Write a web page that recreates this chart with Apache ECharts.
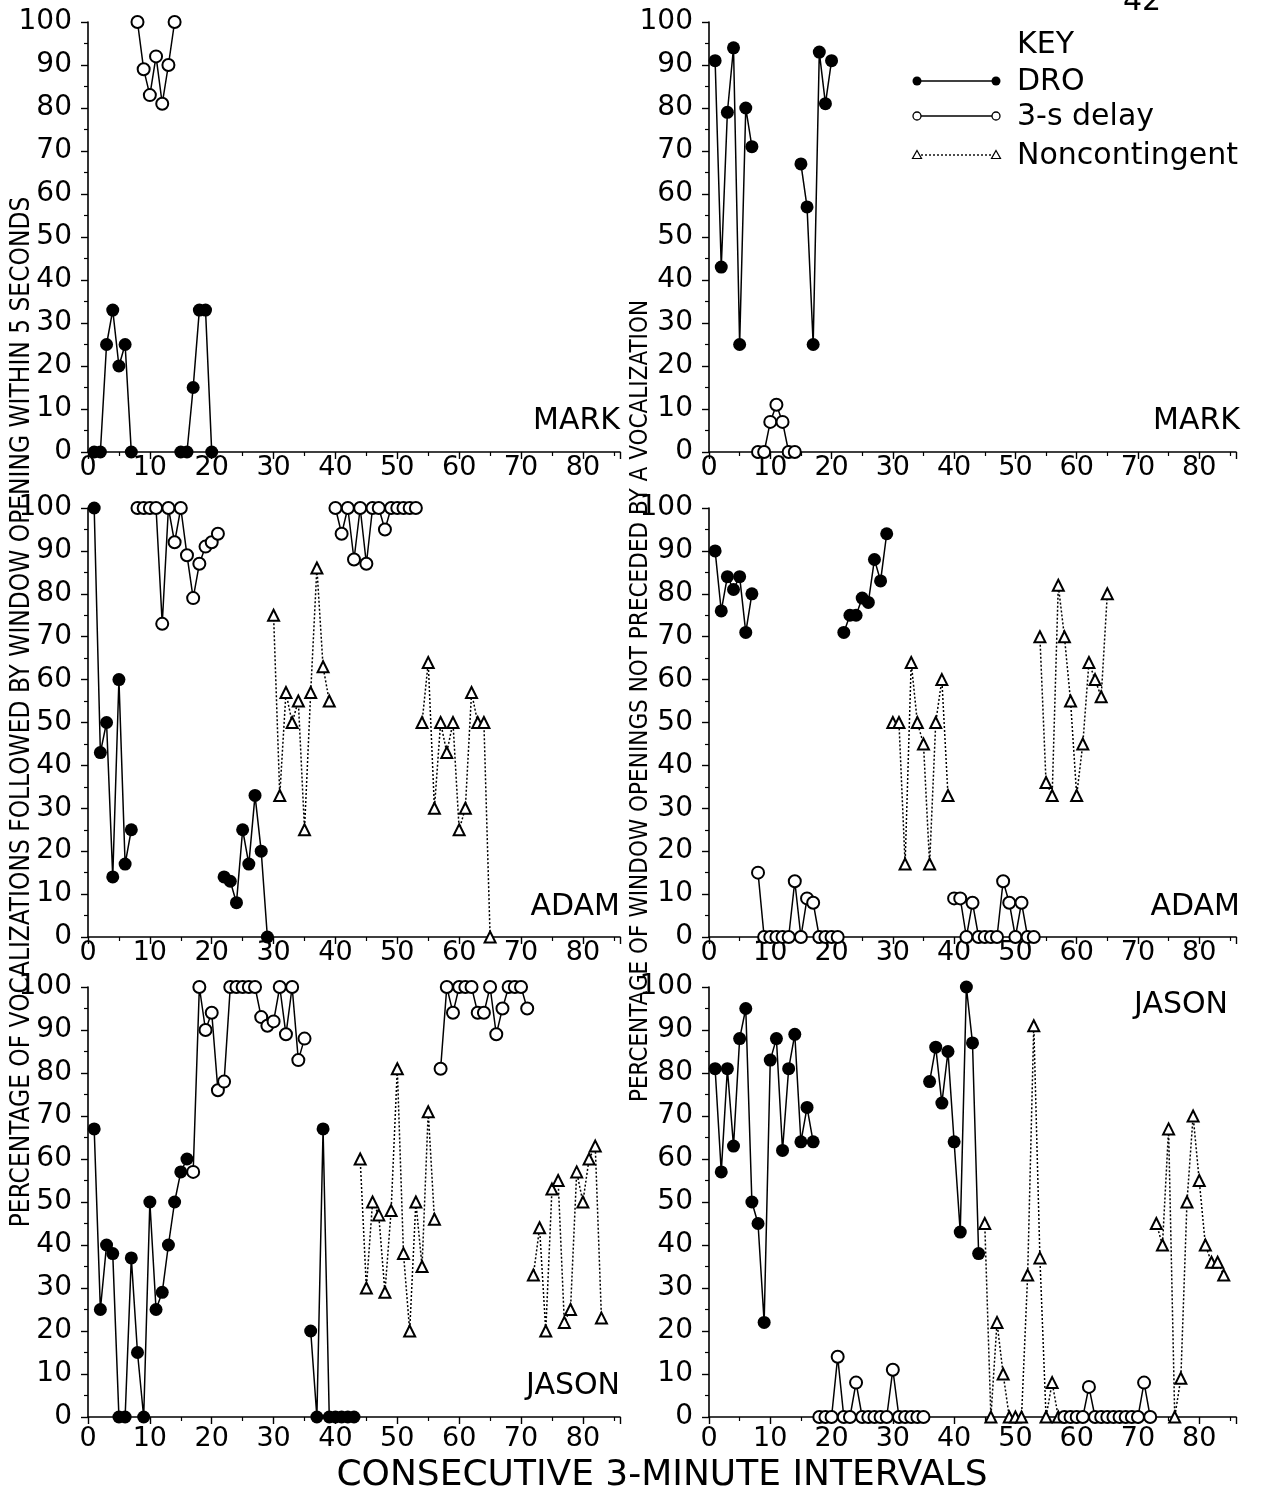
<!DOCTYPE html>
<html><head><meta charset="utf-8">
<script src="https://cdn.jsdelivr.net/npm/echarts@6/dist/echarts.min.js"></script>
<style>html,body{margin:0;padding:0;background:#fff}#c{width:1280px;height:1503px}</style>
</head><body><div id="c"></div>
<script>
// ---------- DATA: [interval, percentage] ----------
// Panel A = % of vocalizations followed by window opening within 5 s (left column)
// Panel B = % of window openings not preceded by a vocalization (right column)
const X_TICKS = [0, 10, 20, 30, 40, 50, 60, 70, 80];
const Y_TICKS = [0, 10, 20, 30, 40, 50, 60, 70, 80, 90, 100];

// MARK
const markA_dro1 = [[1,0],[2,0],[3,25],[4,33],[5,20],[6,25],[7,0]];
const markA_del1 = [[8,100],[9,89],[10,83],[11,92],[12,81],[13,90],[14,100]];
const markA_dro2 = [[15,0],[16,0],[17,15],[18,33],[19,33],[20,0]];
const markB_dro1 = [[1,91],[2,43],[3,79],[4,94],[5,25],[6,80],[7,71]];
const markB_del1 = [[8,0],[9,0],[10,7],[11,11],[12,7],[13,0],[14,0]];
const markB_dro2 = [[15,67],[16,57],[17,25],[18,93],[19,81],[20,91]];

// ADAM
const adamA_dro1 = [[1,100],[2,43],[3,50],[4,14],[5,60],[6,17],[7,25]];
const adamA_del1 = [[8,100],[9,100],[10,100],[11,100],[12,73],[13,100],[14,92],[15,100],[16,89],[17,79],[18,87],[19,91],[20,92],[21,94]];
const adamA_dro2 = [[22,14],[23,13],[24,8],[25,25],[26,17],[27,33],[28,20],[29,0]];
const adamA_nc1  = [[30,75],[31,33],[32,57],[33,50],[34,55],[35,25],[36,57],[37,86],[38,63],[39,55]];
const adamA_del2 = [[40,100],[41,94],[42,100],[43,88],[44,100],[45,87],[46,100],[47,100],[48,95],[49,100],[50,100],[51,100],[52,100],[53,100]];
const adamA_nc2  = [[54,50],[55,64],[56,30],[57,50],[58,43],[59,50],[60,25],[61,30],[62,57],[63,50],[64,50],[65,0]];
const adamB_dro1 = [[1,90],[2,76],[3,84],[4,81],[5,84],[6,71],[7,80]];
const adamB_del1 = [[8,15],[9,0],[10,0],[11,0],[12,0],[13,0],[14,13],[15,0],[16,9],[17,8],[18,0],[19,0],[20,0],[21,0]];
const adamB_dro2 = [[22,71],[23,75],[24,75],[25,79],[26,78],[27,88],[28,83],[29,94]];
const adamB_nc1  = [[30,50],[31,50],[32,17],[33,64],[34,50],[35,45],[36,17],[37,50],[38,60],[39,33]];
const adamB_del2 = [[40,9],[41,9],[42,0],[43,8],[44,0],[45,0],[46,0],[47,0],[48,13],[49,8],[50,0],[51,8],[52,0],[53,0]];
const adamB_nc2  = [[54,70],[55,36],[56,33],[57,82],[58,70],[59,55],[60,33],[61,45],[62,64],[63,60],[64,56],[65,80]];

// JASON
const jasonA_dro1 = [[1,67],[2,25],[3,40],[4,38],[5,0],[6,0],[7,37],[8,15],[9,0],[10,50],[11,25],[12,29],[13,40],[14,50],[15,57],[16,60]];
const jasonA_del1 = [[17,57],[18,100],[19,90],[20,94],[21,76],[22,78],[23,100],[24,100],[25,100],[26,100],[27,100],[28,93],[29,91],[30,92],[31,100],[32,89],[33,100],[34,83],[35,88]];
const jasonA_dro2 = [[36,20],[37,0],[38,67],[39,0],[40,0],[41,0],[42,0],[43,0]];
const jasonA_nc1  = [[44,60],[45,30],[46,50],[47,47],[48,29],[49,48],[50,81],[51,38],[52,20],[53,50],[54,35],[55,71],[56,46]];
const jasonA_del2 = [[57,81],[58,100],[59,94],[60,100],[61,100],[62,100],[63,94],[64,94],[65,100],[66,89],[67,95],[68,100],[69,100],[70,100],[71,95]];
const jasonA_nc2  = [[72,33],[73,44],[74,20],[75,53],[76,55],[77,22],[78,25],[79,57],[80,50],[81,60],[82,63],[83,23]];
const jasonB_dro1 = [[1,81],[2,57],[3,81],[4,63],[5,88],[6,95],[7,50],[8,45],[9,22],[10,83],[11,88],[12,62],[13,81],[14,89],[15,64],[16,72],[17,64]];
const jasonB_del1 = [[18,0],[19,0],[20,0],[21,14],[22,0],[23,0],[24,8],[25,0],[26,0],[27,0],[28,0],[29,0],[30,11],[31,0],[32,0],[33,0],[34,0],[35,0]];
const jasonB_dro2 = [[36,78],[37,86],[38,73],[39,85],[40,64],[41,43],[42,100],[43,87],[44,38]];
const jasonB_nc1  = [[45,45],[46,0],[47,22],[48,10],[49,0],[50,0],[51,0],[52,33],[53,91],[54,37],[55,0],[56,8],[57,0]];
const jasonB_del2 = [[58,0],[59,0],[60,0],[61,0],[62,7],[63,0],[64,0],[65,0],[66,0],[67,0],[68,0],[69,0],[70,0],[71,8],[72,0]];
const jasonB_nc2  = [[73,45],[74,40],[75,67],[76,0],[77,9],[78,50],[79,70],[80,55],[81,40],[82,36],[83,36],[84,33]];

const PANEL_NAMES = ['MARK', 'MARK', 'ADAM', 'ADAM', 'JASON', 'JASON'];
const LEGEND_LABELS = ['DRO', '3-s delay', 'Noncontingent'];
const Y_TITLE_LEFT = 'PERCENTAGE OF VOCALIZATIONS FOLLOWED BY WINDOW OPENING WITHIN 5 SECONDS';
const Y_TITLE_RIGHT = 'PERCENTAGE OF WINDOW OPENINGS NOT PRECEDED BY A VOCALIZATION';
const X_TITLE = 'CONSECUTIVE 3-MINUTE INTERVALS';

// ---------- LAYOUT ----------
const panels = [
  { segs: [['dro', markA_dro1], ['del', markA_del1], ['dro', markA_dro2]] },
  { segs: [['dro', markB_dro1], ['del', markB_del1], ['dro', markB_dro2]] },
  { segs: [['dro', adamA_dro1], ['del', adamA_del1], ['dro', adamA_dro2], ['nc', adamA_nc1], ['del', adamA_del2], ['nc', adamA_nc2]] },
  { segs: [['dro', adamB_dro1], ['del', adamB_del1], ['dro', adamB_dro2], ['nc', adamB_nc1], ['del', adamB_del2], ['nc', adamB_nc2]] },
  { segs: [['dro', jasonA_dro1], ['del', jasonA_del1], ['dro', jasonA_dro2], ['nc', jasonA_nc1], ['del', jasonA_del2], ['nc', jasonA_nc2]] },
  { segs: [['dro', jasonB_dro1], ['del', jasonB_del1], ['dro', jasonB_dro2], ['nc', jasonB_nc1], ['del', jasonB_del2], ['nc', jasonB_nc2]] }
];
const COLS = [{ left: 88, width: 532 }, { left: 709, width: 527 }];
const ROWS = [{ top: 22, height: 430, lm: 2 }, { top: 508, height: 429, lm: 2 }, { top: 987, height: 430, lm: 8 }];
const NAME_POS = [
  { x: 620, y: 421 }, { x: 1240, y: 421 },
  { x: 620, y: 907 }, { x: 1240, y: 907 },
  { x: 620, y: 1386 }, { x: 1228, y: 1005 }
];

const FONT = 'DejaVu Sans, Verdana, sans-serif';
const STYLE = {
  dro: { symbol: 'circle', symbolSize: 13, lineType: 'solid' },
  del: { symbol: 'emptyCircle', symbolSize: 12, lineType: 'solid' },
  nc:  { symbol: 'emptyTriangle', symbolSize: 11, lineType: [2, 2] }
};

const grids = [], xAxes = [], yAxes = [], series = [], graphics = [];
panels.forEach((p, i) => {
  const c = COLS[i % 2], r = ROWS[Math.floor(i / 2)];
  grids.push({ left: c.left, width: c.width, top: r.top, height: r.height, containLabel: false });
  xAxes.push({
    type: 'value', gridIndex: i, min: 0, max: 86, interval: 10,
    axisLine: { show: true, onZero: false, lineStyle: { color: '#000', width: 1.6 } },
    axisTick: { show: true, length: 7, lineStyle: { color: '#000', width: 1.4 } },
    minorTick: { show: true, splitNumber: 2, length: 4, lineStyle: { color: '#000', width: 1.2 } },
    splitLine: { show: false },
    axisLabel: {
      show: true, margin: r.lm, color: '#000', fontFamily: FONT, fontSize: 27,
      showMaxLabel: false,
      formatter: v => (X_TICKS.indexOf(v) >= 0 ? String(v) : '')
    }
  });
  yAxes.push({
    type: 'value', gridIndex: i, min: 0, max: 100, interval: 10,
    axisLine: { show: true, onZero: false, lineStyle: { color: '#000', width: 1.6 } },
    axisTick: { show: true, length: 7, lineStyle: { color: '#000', width: 1.4 } },
    minorTick: { show: true, splitNumber: 2, length: 4, lineStyle: { color: '#000', width: 1.2 } },
    splitLine: { show: false },
    axisLabel: {
      show: true, margin: 16, color: '#000', fontFamily: FONT, fontSize: 28,
      formatter: v => (Y_TICKS.indexOf(v) >= 0 ? String(v) : '')
    }
  });
  p.segs.forEach(([kind, data]) => {
    const s = STYLE[kind];
    series.push({
      type: 'line', xAxisIndex: i, yAxisIndex: i, data: data,
      symbol: s.symbol, symbolSize: s.symbolSize, showSymbol: true,
      lineStyle: { color: '#000', width: 1.5, type: s.lineType },
      itemStyle: { color: '#000', borderColor: '#000', borderWidth: kind === 'dro' ? 0 : 1.5 },
      emphasis: { disabled: true }, silent: true, animation: false,
      z: kind === 'dro' ? 3 : 2
    });
  });
  graphics.push({
    type: 'text', x: NAME_POS[i].x, y: NAME_POS[i].y,
    style: { text: PANEL_NAMES[i], font: '30px ' + FONT, fill: '#000', align: 'right', verticalAlign: 'middle' }
  });
});

// Axis titles
graphics.push({
  type: 'text', x: 22, y: 712, rotation: Math.PI / 2,
  style: { text: Y_TITLE_LEFT, font: '26px "Liberation Sans Narrow", "DejaVu Sans Condensed", sans-serif', fill: '#000', align: 'center', verticalAlign: 'middle' }
});
graphics.push({
  type: 'text', x: 641, y: 701, rotation: Math.PI / 2,
  style: { text: Y_TITLE_RIGHT, font: '24px "Liberation Sans Narrow", "DejaVu Sans Condensed", sans-serif', fill: '#000', align: 'center', verticalAlign: 'middle' }
});
graphics.push({
  type: 'text', x: 662, y: 1476,
  style: { text: X_TITLE, font: '36px ' + FONT, fill: '#000', align: 'center', verticalAlign: 'middle' }
});
// page number (cut at top)
graphics.push({
  type: 'text', x: 1142, y: 2,
  style: { text: '42', font: '30px ' + FONT, fill: '#000', align: 'center', verticalAlign: 'middle' }
});

// Legend (KEY)
const LX0 = 917, LX1 = 996, LT = 1017;
const LY = [81, 116, 155];
graphics.push({ type: 'text', x: LT, y: 45, style: { text: 'KEY', font: '30px ' + FONT, fill: '#000', verticalAlign: 'middle' } });
LEGEND_LABELS.forEach((lab, k) => {
  const y = LY[k];
  graphics.push({ type: 'line', shape: { x1: LX0, y1: y, x2: LX1, y2: y },
    style: { stroke: '#000', lineWidth: 1.4, lineDash: k === 2 ? [2, 2] : null } });
  [LX0, LX1].forEach(x => {
    if (k === 0) graphics.push({ type: 'circle', shape: { cx: x, cy: y, r: 4.5 }, style: { fill: '#000' }, z: 10 });
    else if (k === 1) graphics.push({ type: 'circle', shape: { cx: x, cy: y, r: 4 }, style: { fill: '#fff', stroke: '#000', lineWidth: 1.3 }, z: 10 });
    else graphics.push({ type: 'polygon', shape: { points: [[x, y - 4.5], [x + 4.5, y + 3.5], [x - 4.5, y + 3.5]] }, style: { fill: '#fff', stroke: '#000', lineWidth: 1.2 }, z: 10 });
  });
  graphics.push({ type: 'text', x: LT, y: y + 1, style: { text: lab, font: '30px ' + FONT, fill: '#000', verticalAlign: 'middle' } });
});

const chart = echarts.init(document.getElementById('c'), null, { renderer: 'canvas' });
chart.setOption({
  backgroundColor: '#fff',
  animation: false,
  grid: grids, xAxis: xAxes, yAxis: yAxes, series: series,
  graphic: graphics
});
</script>
</body></html>
